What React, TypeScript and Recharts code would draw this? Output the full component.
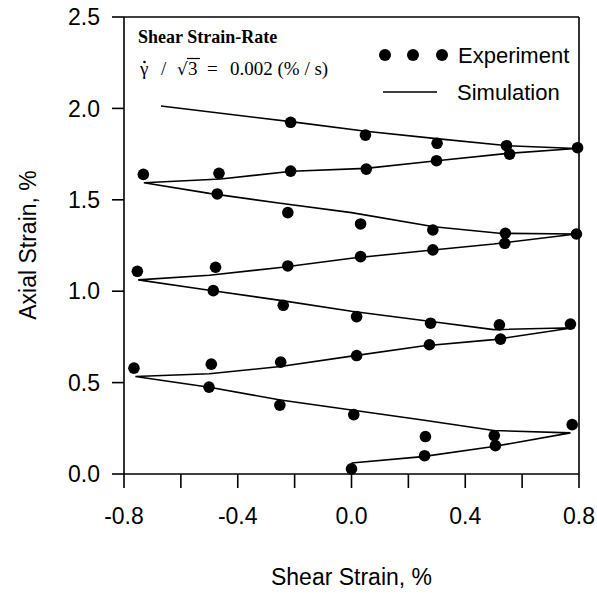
import React from 'react';
import { ScatterChart, Scatter, XAxis, YAxis, ReferenceLine } from 'recharts';

const experiment = [
  { x: -0.214, y: 1.924 }, { x: 0.049, y: 1.854 }, { x: 0.301, y: 1.809 }, { x: 0.545, y: 1.796 },
  { x: 0.556, y: 1.75 }, { x: 0.795, y: 1.785 }, { x: 0.052, y: 1.668 }, { x: 0.299, y: 1.714 },
  { x: -0.732, y: 1.639 }, { x: -0.466, y: 1.645 }, { x: -0.214, y: 1.657 }, { x: -0.472, y: 1.532 },
  { x: -0.224, y: 1.43 }, { x: 0.032, y: 1.368 }, { x: 0.286, y: 1.335 }, { x: 0.541, y: 1.317 },
  { x: 0.539, y: 1.262 }, { x: 0.791, y: 1.313 }, { x: 0.032, y: 1.189 }, { x: 0.286, y: 1.226 },
  { x: -0.753, y: 1.109 }, { x: -0.478, y: 1.131 }, { x: -0.224, y: 1.138 }, { x: -0.486, y: 1.003 },
  { x: -0.24, y: 0.923 }, { x: 0.018, y: 0.861 }, { x: 0.278, y: 0.825 }, { x: 0.52, y: 0.816 },
  { x: 0.77, y: 0.82 }, { x: 0.018, y: 0.648 }, { x: 0.274, y: 0.707 }, { x: 0.524, y: 0.738 },
  { x: -0.765, y: 0.579 }, { x: -0.493, y: 0.601 }, { x: -0.249, y: 0.612 }, { x: -0.501, y: 0.475 },
  { x: -0.252, y: 0.377 }, { x: 0.008, y: 0.325 }, { x: 0.26, y: 0.205 }, { x: 0.502, y: 0.21 },
  { x: 0.506, y: 0.155 }, { x: 0.776, y: 0.27 }, { x: 0.257, y: 0.1 }, { x: 0.0, y: 0.028 },
];

const simulation = [
  { x: 0.0, y: 0.06 }, { x: 0.25, y: 0.095 }, { x: 0.5, y: 0.15 }, { x: 0.77, y: 0.225 },
  { x: 0.5, y: 0.238 }, { x: 0.25, y: 0.295 }, { x: 0.0, y: 0.35 }, { x: -0.25, y: 0.405 },
  { x: -0.5, y: 0.475 }, { x: -0.76, y: 0.533 },
  { x: -0.5, y: 0.548 }, { x: -0.25, y: 0.588 }, { x: 0.0, y: 0.645 }, { x: 0.25, y: 0.7 },
  { x: 0.5, y: 0.735 }, { x: 0.78, y: 0.8 },
  { x: 0.5, y: 0.79 }, { x: 0.28, y: 0.834 }, { x: 0.0, y: 0.89 }, { x: -0.25, y: 0.95 },
  { x: -0.5, y: 1.005 }, { x: -0.75, y: 1.062 },
  { x: -0.5, y: 1.087 }, { x: -0.25, y: 1.13 }, { x: 0.0, y: 1.18 }, { x: 0.25, y: 1.22 },
  { x: 0.5, y: 1.258 }, { x: 0.79, y: 1.313 },
  { x: 0.52, y: 1.317 }, { x: 0.29, y: 1.353 }, { x: 0.0, y: 1.43 }, { x: -0.25, y: 1.481 },
  { x: -0.5, y: 1.535 }, { x: -0.73, y: 1.593 },
  { x: -0.46, y: 1.614 }, { x: -0.21, y: 1.656 }, { x: 0.05, y: 1.672 }, { x: 0.3, y: 1.714 },
  { x: 0.55, y: 1.754 }, { x: 0.79, y: 1.781 },
  { x: 0.55, y: 1.796 }, { x: 0.29, y: 1.836 }, { x: 0.05, y: 1.875 }, { x: -0.2, y: 1.925 },
  { x: -0.67, y: 2.013 },
];

const xTicks = [-0.8, -0.6, -0.4, -0.2, 0, 0.2, 0.4, 0.6, 0.8];
const yTicks = [0, 0.5, 1.0, 1.5, 2.0, 2.5];

const FONT = '"Liberation Sans", Arial, sans-serif';
const SERIF = '"Liberation Serif", "Times New Roman", serif';

const xFmt = (v: number) => (Math.abs(Math.round(v * 10)) % 4 === 0 ? v.toFixed(1) : '');
const yFmt = (v: number) => v.toFixed(1);

const Dot = (p: any) => <circle cx={p.cx} cy={p.cy} r={5.8} fill="#000" />;
const NoShape = () => null;

export default function App() {
  return (
    <div style={{ position: 'absolute', left: 0, top: 0, width: 597, height: 597, background: '#fff' }}>
      <ScatterChart width={597} height={597} margin={{ top: 17, right: 18, left: 0, bottom: 0 }}>
        <XAxis
          type="number"
          dataKey="x"
          domain={[-0.8, 0.8]}
          ticks={xTicks}
          interval={0}
          tickFormatter={xFmt}
          height={123}
          tickSize={14}
          tickMargin={20}
          axisLine={{ stroke: '#000', strokeWidth: 1.6 }}
          tickLine={{ stroke: '#000', strokeWidth: 1.6 }}
          tick={{ fill: '#000', fontSize: 23, fontFamily: FONT }}
          label={{ value: 'Shear Strain, %', position: 'insideBottom', offset: 12, fill: '#000', fontSize: 23, fontFamily: FONT }}
        />
        <YAxis
          type="number"
          dataKey="y"
          domain={[0, 2.5]}
          ticks={yTicks}
          interval={0}
          tickFormatter={yFmt}
          width={124}
          tickSize={12}
          tickMargin={12}
          axisLine={{ stroke: '#000', strokeWidth: 1.6 }}
          tickLine={{ stroke: '#000', strokeWidth: 1.6 }}
          tick={{ fill: '#000', fontSize: 23, fontFamily: FONT }}
        />
        <ReferenceLine y={2.5} stroke="#000" strokeWidth={1.6} />
        <ReferenceLine x={0.8} stroke="#000" strokeWidth={1.6} />
        <Scatter
          name="Simulation"
          data={simulation}
          line={{ stroke: '#000', strokeWidth: 1.6 }}
          lineType="joint"
          shape={NoShape}
          isAnimationActive={false}
        />
        <Scatter name="Experiment" data={experiment} shape={Dot} fill="#000" isAnimationActive={false} />
      </ScatterChart>
      <svg width={597} height={597} style={{ position: 'absolute', left: 0, top: 0, pointerEvents: 'none' }}>
        <text x={28} y={245} transform="rotate(-90 28 245)" textAnchor="middle" dominantBaseline="central"
          fontFamily={FONT} fontSize={23} fill="#000">Axial Strain, %</text>
        <text x={138} y={43} fontFamily={SERIF} fontWeight="bold" fontSize={18} fill="#000">Shear Strain-Rate</text>
        <circle cx={144.5} cy={62} r={1.3} fill="#000" />
        <text x={140} y={75} fontFamily={SERIF} fontSize={19} fill="#000">γ</text>
        <text x={161} y={75} fontFamily={SERIF} fontSize={19} fill="#000">/</text>
        <text x={177} y={75} fontFamily="DejaVu Sans, sans-serif" fontSize={17} fill="#000">√</text>
        <line x1={187} y1={58.5} x2={200} y2={58.5} stroke="#000" strokeWidth={1.2} />
        <text x={188} y={75} fontFamily={SERIF} fontSize={19} fill="#000">3</text>
        <text x={207} y={75} fontFamily={SERIF} fontSize={19} fill="#000">=</text>
        <text x={230} y={75} fontFamily={SERIF} fontSize={19} fill="#000">0.002 (% / s)</text>
        <circle cx={385} cy={55} r={6} fill="#000" />
        <circle cx={413} cy={55} r={6} fill="#000" />
        <circle cx={442} cy={55} r={6} fill="#000" />
        <text x={458} y={55} dominantBaseline="central" fontFamily={FONT} fontSize={22} fill="#000">Experiment</text>
        <line x1={383} y1={92} x2={437} y2={92} stroke="#000" strokeWidth={1.6} />
        <text x={457} y={92} dominantBaseline="central" fontFamily={FONT} fontSize={22} fill="#000">Simulation</text>
      </svg>
    </div>
  );
}
